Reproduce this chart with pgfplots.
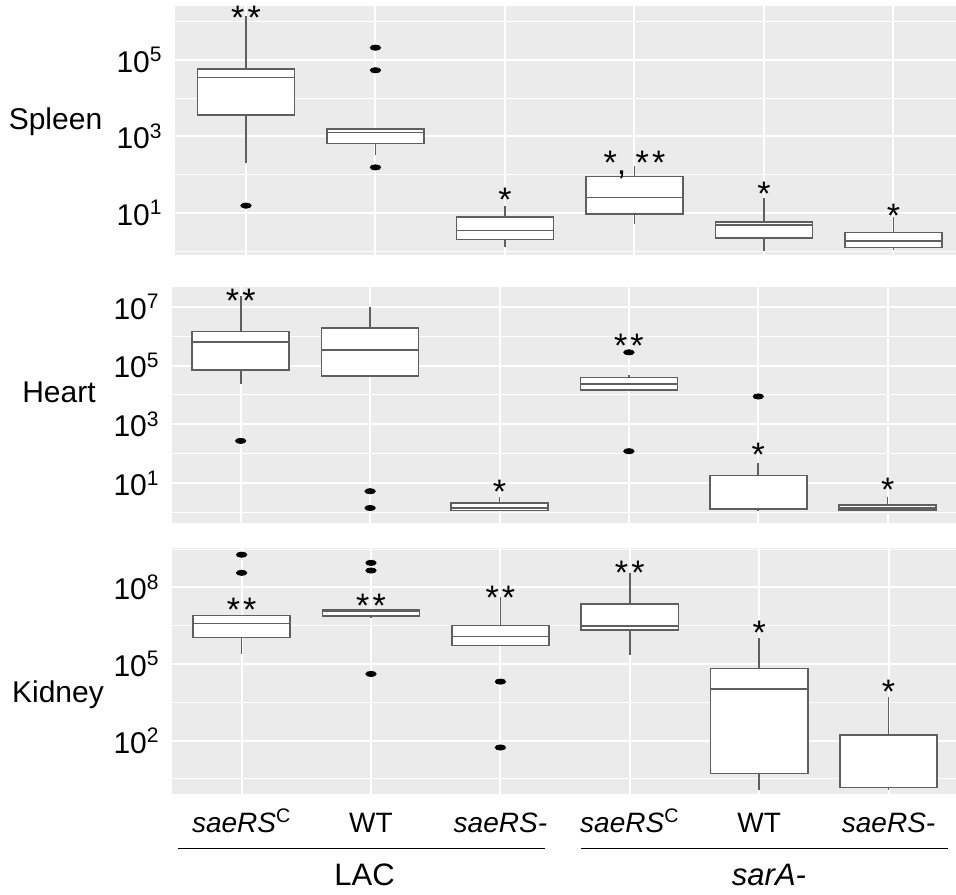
\documentclass[border=0pt]{standalone}
\usepackage{fontspec}
\setmainfont{Liberation Sans}
\usepackage{pgfplots}
\pgfplotsset{compat=1.18}
\usepgfplotslibrary{statistics}

\definecolor{bggray}{RGB}{235,235,235}
\definecolor{boxgray}{RGB}{95,95,95}

% values are log10(CFU)
\pgfplotsset{
  panel/.style={
    anchor=south west, scale only axis,
    axis lines=box, axis line style={draw=none},
    axis background/.style={fill=bggray},
    tick style={draw=none}, major tick length=0pt, minor tick length=0pt,
    grid=both,
    major grid style={white, line width=1bp},
    minor grid style={white, line width=0.5bp},
    xtick={0,1,2,3,4,5}, xticklabels={},
    yticklabel style={font=\fontsize{15bp}{15bp}\selectfont, inner sep=0pt, xshift=-6bp},
    clip=false,
  },
  bx/.style={boxplot prepared={draw direction=y, #1, box extend=0.75, whisker extend=0},
    draw=boxgray, fill=white, line width=0.8bp},
  outl/.style={only marks, mark=*, mark size=1.3bp, black,
    mark options={xscale=2, yscale=1, draw=black, fill=black}},
}
\tikzset{sigstar/.style={font=\fontsize{17bp}{17bp}\selectfont, anchor=base, yshift=-9.7bp, inner sep=0pt}}
\newcommand{\two}{*\kern1.6bp*}

\begin{document}
\begin{tikzpicture}
\useasboundingbox (0,0) rectangle (478bp,447.5bp);

% Spleen
\begin{axis}[panel, at={(87.5bp,320bp)}, width=390.5bp, height=124.5bp,
  xmin=-0.548, xmax=5.483, ymin=-0.10, ymax=6.41,
  ytick={1,3,5}, yticklabels={10\textsuperscript{1},10\textsuperscript{3},10\textsuperscript{5}},
  minor ytick={0,2,4,6}]
\addplot[bx={draw position=0, lower whisker=2.30, lower quartile=3.56, median=4.54, upper quartile=4.76, upper whisker=6.16}] coordinates {};
\addplot[bx={draw position=1, lower whisker=2.51, lower quartile=2.82, median=3.10, upper quartile=3.19, upper whisker=3.19}] coordinates {};
\addplot[bx={draw position=2, lower whisker=0.11, lower quartile=0.31, median=0.54, upper quartile=0.90, upper whisker=1.17}] coordinates {};
\addplot[bx={draw position=3, lower whisker=0.70, lower quartile=0.97, median=1.40, upper quartile=1.95, upper whisker=2.23}] coordinates {};
\addplot[bx={draw position=4, lower whisker=0.01, lower quartile=0.34, median=0.68, upper quartile=0.77, upper whisker=1.39}] coordinates {};
\addplot[bx={draw position=5, lower whisker=0.03, lower quartile=0.10, median=0.27, upper quartile=0.49, upper whisker=0.90}] coordinates {};
\addplot[outl] coordinates {(0,1.19) (1,5.32) (1,4.73) (1,2.19)};
\node[sigstar] at (axis cs:0,6.31) {\two};
\node[sigstar] at (axis cs:2,1.54) {*};
\node[sigstar] at (axis cs:3,2.51) {*, \two};
\node[sigstar] at (axis cs:4,1.70) {*};
\node[sigstar] at (axis cs:5,1.12) {*};
\end{axis}

% Heart
\begin{axis}[panel, at={(86bp,186.15bp)}, width=392bp, height=117.7bp,
  xmin=-0.531, xmax=5.528, ymin=-0.34, ymax=7.66,
  ytick={1,3,5,7}, yticklabels={10\textsuperscript{1},10\textsuperscript{3},10\textsuperscript{5},10\textsuperscript{7}},
  minor ytick={0,2,4,6}]
\addplot[bx={draw position=0, lower whisker=4.38, lower quartile=4.84, median=5.80, upper quartile=6.16, upper whisker=7.36}] coordinates {};
\addplot[bx={draw position=1, lower whisker=4.60, lower quartile=4.64, median=5.53, upper quartile=6.28, upper whisker=7.00}] coordinates {};
\addplot[bx={draw position=2, lower whisker=0.07, lower quartile=0.07, median=0.16, upper quartile=0.32, upper whisker=0.54}] coordinates {};
\addplot[bx={draw position=3, lower whisker=4.17, lower quartile=4.17, median=4.38, upper quartile=4.60, upper whisker=4.68}] coordinates {};
\addplot[bx={draw position=4, lower whisker=0.07, lower quartile=0.13, median=0.13, upper quartile=1.26, upper whisker=1.68}] coordinates {};
\addplot[bx={draw position=5, lower whisker=0.10, lower quartile=0.10, median=0.16, upper quartile=0.27, upper whisker=0.53}] coordinates {};
\addplot[outl] coordinates {(0,2.44) (1,0.73) (1,0.16) (3,5.45) (3,2.09) (4,3.95)};
\node[sigstar] at (axis cs:0,7.47) {\two};
\node[sigstar] at (axis cs:2,0.96) {*};
\node[sigstar] at (axis cs:3,5.94) {\two};
\node[sigstar] at (axis cs:4,2.24) {*};
\node[sigstar] at (axis cs:5,1.05) {*};
\end{axis}

% Kidney
\begin{axis}[panel, at={(86bp,50.5bp)}, width=392bp, height=122.85bp,
  xmin=-0.538, xmax=5.521, ymin=-0.09, ymax=9.53,
  ytick={2,5,8}, yticklabels={10\textsuperscript{2},10\textsuperscript{5},10\textsuperscript{8}},
  minor ytick={0.5,3.5,6.5,9.5},
  xticklabels={\textit{saeRS}\textsuperscript{C}, WT, \textit{saeRS-}, \textit{saeRS}\textsuperscript{C}, WT, \textit{saeRS-}},
  xticklabel style={font=\fontsize{14bp}{14bp}\selectfont, anchor=base, inner sep=0pt, yshift=-19.5bp}]
\addplot[bx={draw position=0, lower whisker=5.38, lower quartile=6.03, median=6.59, upper quartile=6.90, upper whisker=6.90}] coordinates {};
\addplot[bx={draw position=1, lower whisker=6.79, lower quartile=6.89, median=7.07, upper quartile=7.13, upper whisker=7.13}] coordinates {};
\addplot[bx={draw position=2, lower whisker=5.72, lower quartile=5.72, median=6.07, upper quartile=6.50, upper whisker=7.63}] coordinates {};
\addplot[bx={draw position=3, lower whisker=5.35, lower quartile=6.33, median=6.49, upper quartile=7.34, upper whisker=8.57}] coordinates {};
\addplot[bx={draw position=4, lower whisker=0.06, lower quartile=0.72, median=4.02, upper quartile=4.83, upper whisker=6.03}] coordinates {};
\addplot[bx={draw position=5, lower whisker=0.06, lower quartile=0.16, median=0.16, upper quartile=2.21, upper whisker=3.72}] coordinates {};
\addplot[outl] coordinates {(0,9.28) (0,8.57) (1,8.96) (1,8.66) (1,4.61) (2,4.31) (2,1.73)};
\node[sigstar] at (axis cs:0,7.42) {\two};
\node[sigstar] at (axis cs:1,7.58) {\two};
\node[sigstar] at (axis cs:2,7.91) {\two};
\node[sigstar] at (axis cs:3,8.88) {\two};
\node[sigstar] at (axis cs:4,6.51) {*};
\node[sigstar] at (axis cs:5,4.20) {*};
\end{axis}

% row labels
\node[anchor=base, font=\fontsize{15bp}{15bp}\selectfont] at (27.75bp,382.5bp) {Spleen};
\node[anchor=base, font=\fontsize{15bp}{15bp}\selectfont] at (29.5bp,246bp) {Heart};
\node[anchor=base, font=\fontsize{15bp}{15bp}\selectfont] at (29bp,96bp) {Kidney};

% group brackets
\draw[line width=0.75bp] (89bp,23.25bp) -- (272.5bp,23.25bp);
\draw[line width=0.75bp] (290.5bp,23.25bp) -- (474bp,23.25bp);
\node[anchor=base, font=\fontsize{15.5bp}{15.5bp}\selectfont] at (182.25bp,5bp) {LAC};
\node[anchor=base, font=\fontsize{15.5bp}{15.5bp}\selectfont] at (384.5bp,5bp) {\textit{sarA-}};
\end{tikzpicture}
\end{document}
